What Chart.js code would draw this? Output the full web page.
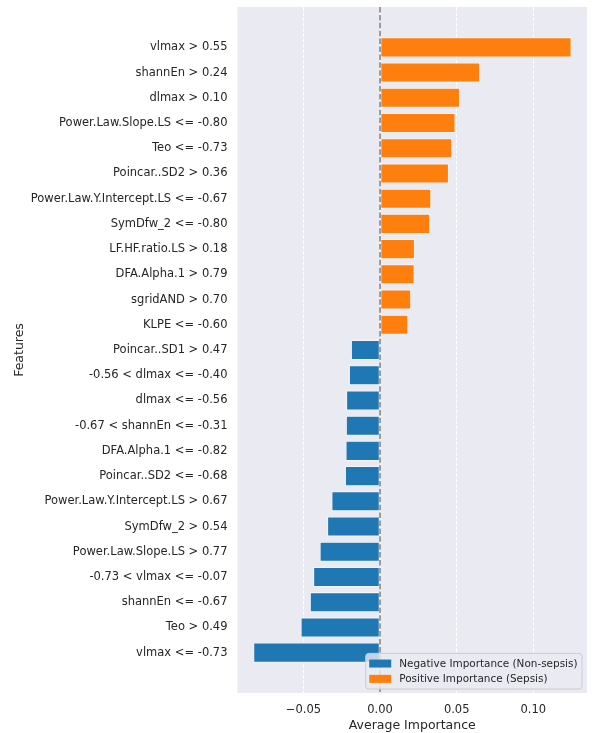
<!DOCTYPE html>
<html>
<head>
<meta charset="utf-8">
<script src="https://cdn.jsdelivr.net/npm/chart.js@4.4.1/dist/chart.umd.min.js"></script>
<style>
  html, body { margin: 0; padding: 0; background: #ffffff; }
  #wrap { width: 595px; height: 733px; }
</style>
</head>
<body>
<div id="wrap"><canvas id="chart" width="595" height="733"></canvas></div>
<script>
// Rule-based features, listed top to bottom
const features = [
  'vlmax > 0.55',
  'shannEn > 0.24',
  'dlmax > 0.10',
  'Power.Law.Slope.LS <= -0.80',
  'Teo <= -0.73',
  'Poincar..SD2 > 0.36',
  'Power.Law.Y.Intercept.LS <= -0.67',
  'SymDfw_2 <= -0.80',
  'LF.HF.ratio.LS > 0.18',
  'DFA.Alpha.1 > 0.79',
  'sgridAND > 0.70',
  'KLPE <= -0.60',
  'Poincar..SD1 > 0.47',
  '-0.56 < dlmax <= -0.40',
  'dlmax <= -0.56',
  '-0.67 < shannEn <= -0.31',
  'DFA.Alpha.1 <= -0.82',
  'Poincar..SD2 <= -0.68',
  'Power.Law.Y.Intercept.LS > 0.67',
  'SymDfw_2 > 0.54',
  'Power.Law.Slope.LS > 0.77',
  '-0.73 < vlmax <= -0.07',
  'shannEn <= -0.67',
  'Teo > 0.49',
  'vlmax <= -0.73'
];

// Average importance for each feature
const importance = [
  0.1248, 0.0652, 0.0520, 0.0491, 0.0470, 0.0448, 0.0333, 0.0326,
  0.0226, 0.0224, 0.0202, 0.0183,
  -0.0189, -0.0202, -0.0220, -0.0222, -0.0224, -0.0228, -0.0316,
  -0.0344, -0.0393, -0.0435, -0.0457, -0.0517, -0.0826
];

const xTickValues = [-0.05, 0.00, 0.05, 0.10];
const seriesLabels = ['Negative Importance (Non-sepsis)', 'Positive Importance (Sepsis)'];
const seriesColors = ['#1f77b4', '#ff7f0e'];

const TEXT = '#262626';
const FONT = 'DejaVu Sans';
Chart.defaults.font.family = FONT;
Chart.defaults.color = TEXT;

const negPoints = features.map((f, i) => ({ y: i, x: importance[i] < 0 ? importance[i] : null }));
const posPoints = features.map((f, i) => ({ y: i, x: importance[i] >= 0 ? importance[i] : null }));

// Panel background
const panelBg = {
  id: 'panelBg',
  beforeDraw(chart) {
    const { ctx, chartArea: a } = chart;
    ctx.save();
    ctx.fillStyle = '#EAEAF2';
    ctx.fillRect(a.left, a.top, a.right - a.left, a.bottom - a.top);
    ctx.restore();
  }
};

// Dashed reference line at zero
const zeroLine = {
  id: 'zeroLine',
  afterDatasetsDraw(chart) {
    const { ctx, chartArea: a } = chart;
    const x = chart.scales.x.getPixelForValue(0);
    ctx.save();
    ctx.strokeStyle = '#808080';
    ctx.lineWidth = 1.5;
    ctx.setLineDash([5.5, 2.4]);
    ctx.beginPath();
    ctx.moveTo(x, a.top);
    ctx.lineTo(x, a.bottom);
    ctx.stroke();
    ctx.restore();
  }
};

// Legend drawn inside the lower-right corner of the panel
const insetLegend = {
  id: 'insetLegend',
  afterDraw(chart) {
    const { ctx, chartArea: a } = chart;
    const items = chart.data.datasets.map(ds => ({ text: ds.label, color: ds.backgroundColor }));
    ctx.save();
    ctx.font = '10.45px "' + FONT + '"';
    const textW = Math.max(...items.map(it => ctx.measureText(it.text).width));
    const padL = 3.5, patchW = 22, gap = 8, padR = 4.5, rowH = 15.3, padT = 2.5;
    const boxW = padL + patchW + gap + textW + padR;
    const boxH = padT * 2 + rowH * items.length;
    const bx = a.right - 5 - boxW;
    const by = a.bottom - 4 - boxH;
    ctx.beginPath();
    ctx.roundRect(bx, by, boxW, boxH, 3);
    ctx.fillStyle = 'rgba(234,234,242,0.8)';
    ctx.fill();
    ctx.strokeStyle = '#cccccc';
    ctx.lineWidth = 1;
    ctx.stroke();
    ctx.textBaseline = 'middle';
    ctx.textAlign = 'left';
    items.forEach((it, i) => {
      const cy = by + padT + rowH * (i + 0.5);
      ctx.fillStyle = it.color;
      ctx.fillRect(bx + padL, cy - 4, patchW, 8);
      ctx.fillStyle = TEXT;
      ctx.fillText(it.text, bx + padL + patchW + gap, cy + 0.5);
    });
    ctx.restore();
  }
};

const barStyle = {
  borderColor: '#ffffff',
  borderWidth: 0.8,
  borderSkipped: false,
  grouped: false,
  categoryPercentage: 1.0,
  barPercentage: 0.78
};

new Chart(document.getElementById('chart'), {
  type: 'bar',
  data: {
    datasets: [
      Object.assign({ label: seriesLabels[0], data: negPoints, backgroundColor: seriesColors[0] }, barStyle),
      Object.assign({ label: seriesLabels[1], data: posPoints, backgroundColor: seriesColors[1] }, barStyle)
    ]
  },
  options: {
    indexAxis: 'y',
    responsive: false,
    animation: false,
    devicePixelRatio: 1,
    layout: { padding: { left: 12, top: 7, right: 8, bottom: 0 } },
    plugins: {
      legend: { display: false },
      tooltip: { enabled: false }
    },
    scales: {
      x: {
        type: 'linear',
        min: -0.093,
        max: 0.135,
        afterBuildTicks: (scale) => { scale.ticks = xTickValues.map(v => ({ value: v })); },
        afterFit: (scale) => { scale.height = 40; scale.paddingLeft = 0; scale.paddingRight = 0; },
        ticks: {
          autoSkip: false,
          maxRotation: 0,
          padding: 10,
          font: { size: 11.5 },
          color: TEXT,
          callback: (v) => (v < 0 ? '\u2212' : '') + Math.abs(v).toFixed(2)
        },
        grid: { color: '#ffffff', lineWidth: 1, drawTicks: false },
        border: { display: false, dash: [3.7, 1.6] },
        title: {
          display: true,
          text: 'Average Importance',
          font: { size: 12.5 },
          color: TEXT,
          padding: { top: 0, bottom: 0 }
        }
      },
      y: {
        type: 'linear',
        reverse: true,
        offset: false,
        min: -1.6,
        max: 25.6,
        afterBuildTicks: (scale) => { scale.ticks = features.map((f, i) => ({ value: i })); },
        afterFit: (scale) => { scale.width = 225.5; scale.paddingTop = 0; scale.paddingBottom = 0; },
        ticks: {
          autoSkip: false,
          padding: 10,
          font: { size: 11.5 },
          color: TEXT,
          callback: (v) => features[v]
        },
        grid: { display: false, drawTicks: false, offset: false },
        border: { display: false },
        title: {
          display: true,
          text: 'Features',
          font: { size: 12.5 },
          color: TEXT,
          padding: { top: 0, bottom: 0 }
        }
      }
    }
  },
  plugins: [panelBg, zeroLine, insetLegend]
});
</script>
</body>
</html>
